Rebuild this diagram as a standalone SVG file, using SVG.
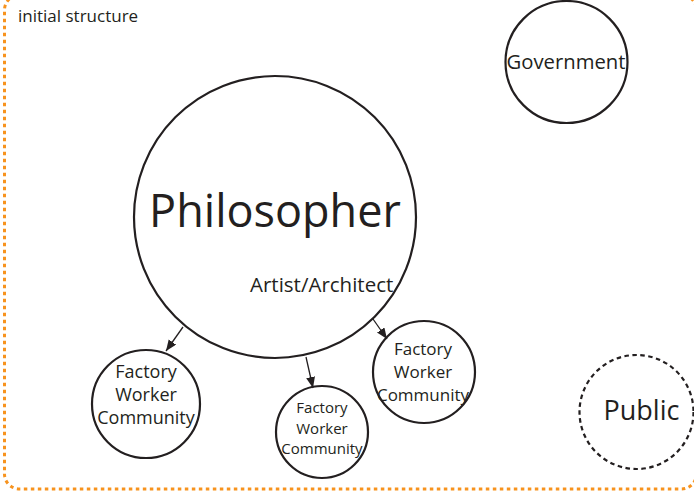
<svg xmlns="http://www.w3.org/2000/svg" width="694" height="491" viewBox="0 0 694 491">
<style>
text{font-family:"Open Sans","Liberation Sans",sans-serif;fill:#231F20}
.node{fill:#fff;stroke:#231F20;stroke-width:2.2}
.dash{fill:none;stroke:#231F20;stroke-width:2.2;stroke-dasharray:4.5 3.5}
.conn{stroke:#231F20;stroke-width:1.3;fill:none}
.mid{text-anchor:middle}
</style>
<defs>
<marker id="ah" markerUnits="userSpaceOnUse" markerWidth="12" markerHeight="10" refX="11" refY="4.5" orient="auto">
<path d="M0,0 L11,4.5 L0,9 z" fill="#231F20"/>
</marker>
</defs>
<rect id="frame" x="4.5" y="-5" width="692" height="494" rx="15" ry="15" fill="none" stroke="#F7931E" stroke-width="3" stroke-dasharray="3.5 3.5"/>
<text x="18" y="22" font-size="17">initial structure</text>
<g id="philosopher">
<circle class="node" cx="275" cy="217" r="141"/>
<text class="mid" x="275" y="227" font-size="45">Philosopher</text>
<text x="250" y="292" font-size="20.5">Artist/Architect</text>
</g>
<g id="government">
<circle class="node" cx="566.5" cy="62" r="61"/>
<text class="mid" x="566" y="69" font-size="20.3">Government</text>
</g>
<g id="public">
<circle class="dash" cx="636.5" cy="412" r="57"/>
<text class="mid" x="641.5" y="420" font-size="27">Public</text>
</g>
<g id="fwc1">
<circle class="node" cx="146" cy="404" r="54"/>
<text class="mid" x="146" y="378" font-size="18">Factory</text>
<text class="mid" x="146" y="401" font-size="18">Worker</text>
<text class="mid" x="146" y="424" font-size="18">Community</text>
</g>
<g id="fwc2">
<circle class="node" cx="322" cy="432" r="46"/>
<text class="mid" x="322" y="413" font-size="15">Factory</text>
<text class="mid" x="322" y="433.5" font-size="15">Worker</text>
<text class="mid" x="322" y="454" font-size="15">Community</text>
</g>
<g id="fwc3">
<circle class="node" cx="424" cy="372" r="51"/>
<text class="mid" x="423" y="355" font-size="17">Factory</text>
<text class="mid" x="423" y="378" font-size="17">Worker</text>
<text class="mid" x="423" y="401" font-size="17">Community</text>
</g>
<g id="connectors">
<line class="conn" x1="183" y1="327" x2="166" y2="351" marker-end="url(#ah)"/>
<line class="conn" x1="306" y1="357" x2="313" y2="388" marker-end="url(#ah)"/>
<line class="conn" x1="373" y1="319" x2="387" y2="339" marker-end="url(#ah)"/>
</g>
</svg>
